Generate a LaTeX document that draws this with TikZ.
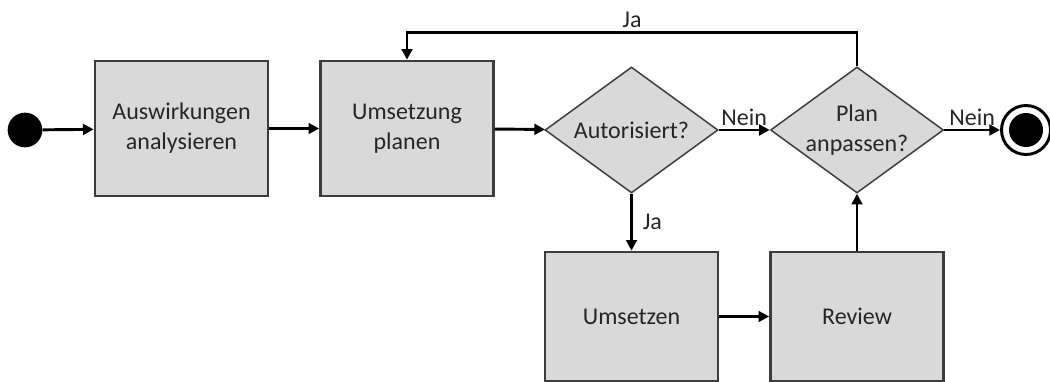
\documentclass[tikz,border=0pt]{standalone}
\usepackage{fontspec}
\setmainfont{Carlito}
\usetikzlibrary{arrows.meta,positioning,shapes.geometric}
\definecolor{boxgray}{RGB}{217,217,217}
\definecolor{rimgray}{RGB}{60,60,60}
\definecolor{txtgray}{RGB}{38,38,38}
\tikzset{
  actbox/.style={rectangle, draw=rimgray, fill=boxgray, line width=2pt, minimum width=129.75pt, minimum height=101.25pt, inner sep=0pt, align=center, font=\fontsize{18}{22.5}\selectfont, text=txtgray},
  decbox/.style={diamond, draw=rimgray, fill=boxgray, line width=1.1pt, minimum width=129.75pt, minimum height=94.5pt, aspect=1.37, inner sep=0pt, align=center, font=\fontsize{18}{22.5}\selectfont, text=txtgray},
  startdot/.style={circle, fill=black, minimum size=26pt, inner sep=0pt},
  enddot/.style={circle, draw=black, line width=2.2pt, fill=white, minimum size=36.75pt, inner sep=0pt,
      path picture={\fill[black] (path picture bounding box.center) circle (12.75pt);}},
  flow/.style={-{Triangle[length=8pt,width=8pt]}, line width=2.2pt},
  lbl/.style={font=\fontsize{18}{22.5}\selectfont, text=txtgray},
}

\begin{document}
\begin{tikzpicture}[x=0.75pt, y=-0.75pt]
\useasboundingbox (0,0) rectangle (1050,382);
% main row
\node[startdot] (start) at (25,130) {};
\node[actbox] (analyse) at (181.5,128.5) {Auswirkungen\\analysieren};
\node[actbox] (planen) at (407,128.5) {Umsetzung\\planen};
\node[decbox] (autor) at (631.5,130) {Autorisiert?};
\node[decbox] (anpassen) at (857,130) {Plan\\anpassen?};
\node[enddot] (ende) at (1026,130) {};
% lower row
\node[actbox, minimum height=96.75pt] (umsetzen) at (631.5,316.5) {Umsetzen};
\node[actbox, minimum height=96.75pt] (review) at (857,316.5) {Review};
% connectors
\draw[flow] (start) -- (analyse);
\draw[flow] (analyse) -- (planen);
\draw[flow] (planen) -- (autor);
\draw[flow] (autor) -- node[lbl, above=-1pt] {Nein} (anpassen);
\draw[flow] (anpassen) -- node[lbl, above=-1pt] {Nein} (ende);
\draw[flow] (autor) -- node[lbl, right=4pt] {Ja} (umsetzen);
\draw[flow] (umsetzen) -- (review);
\draw[flow] (review) -- (anpassen);
\draw[flow] (anpassen.north) -- ++(0,-34) -| node[lbl, pos=0.25, above=-1pt] {Ja} (planen.north);
\end{tikzpicture}
\end{document}
